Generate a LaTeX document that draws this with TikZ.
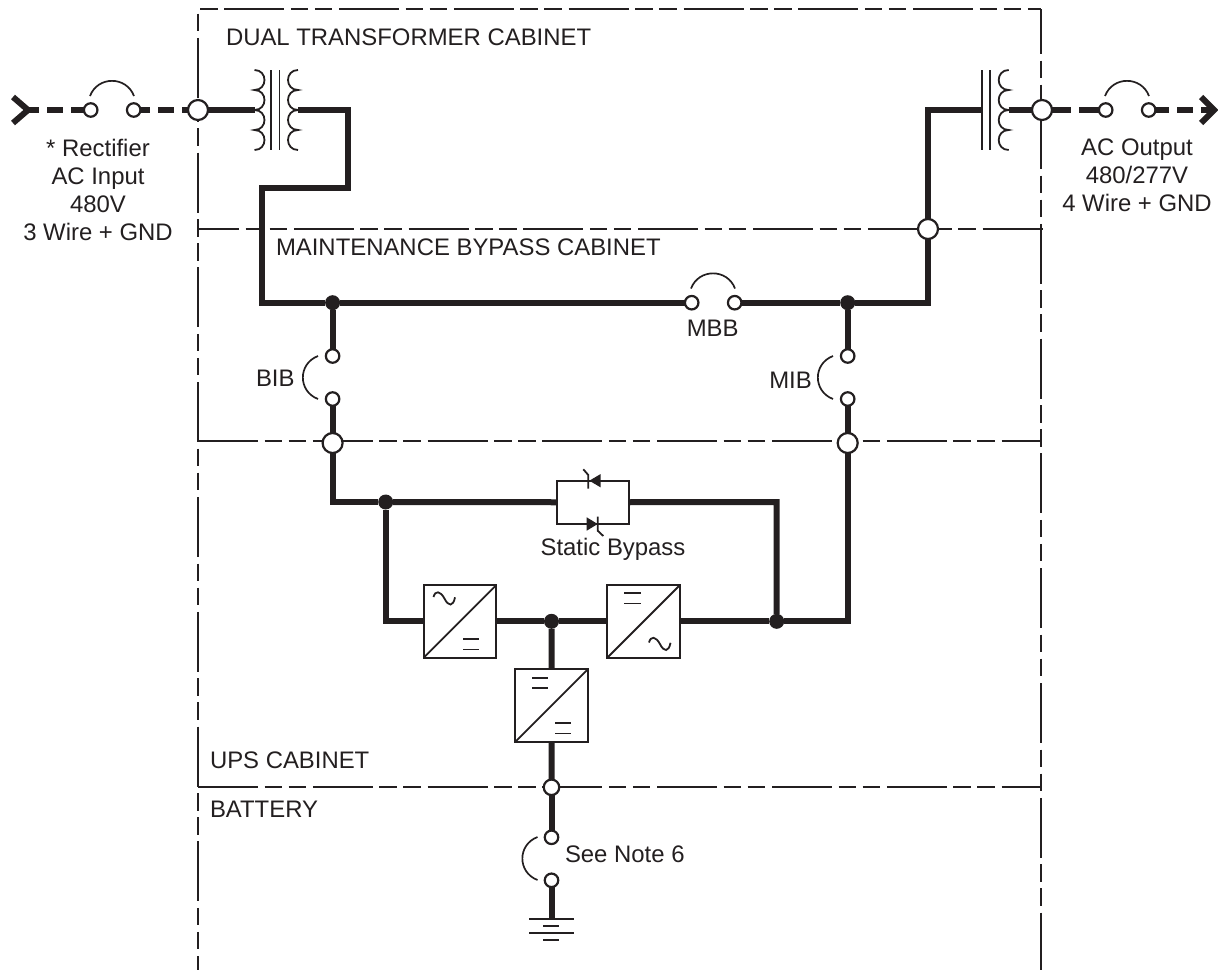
\documentclass[tikz,border=0pt]{standalone}
\usepackage{fontspec}
\setmainfont{Liberation Sans}
\definecolor{ink}{HTML}{231F20}
\newcommand{\coilpath}[2]{(#1,70) .. controls +(#2,0) and +(#2,0) .. ++(0,20) .. controls +(#2,0) and +(#2,0) .. ++(0,20) .. controls +(#2,0) and +(#2,0) .. ++(0,20) .. controls +(#2,0) and +(#2,0) .. ++(0,20)}
\newcommand{\eqsign}[3]{\draw[symb] (#1,#3) -- (#2,#3) (#1,#3+10.5) -- (#2,#3+10.5);}
\newcommand{\tildesign}[2]{\draw[symb] (#1,#2) .. controls +(1.7,-6.7) and +(-4.3,-8) .. ++(11,1.6) .. controls +(4,8) and +(-1.8,9.5) .. ++(10.5,-1.3);}
\tikzset{
  every path/.style={color=ink},
  every node/.style={text=ink},
  x=1pt,y=-1pt,
  framedash/.style={dash pattern=on 60pt off 6.5pt on 17.5pt off 6.5pt on 17.5pt off 6.8pt,dash phase=#1pt},
  frameln/.style={line width=2pt},
  wire/.style={line width=6pt,line join=miter,line cap=butt},
  thin wire/.style={line width=2.2pt},
  symb/.style={line width=1.8pt},
  lab/.style={font=\fontsize{23.9}{28}\selectfont,inner sep=0pt,outer sep=0pt,anchor=base west},
  labc/.style={lab,anchor=base},
  bigc/.style={circle,draw,fill=white,line width=2.2pt,minimum size=20pt,inner sep=0pt,outer sep=0pt},
  midc/.style={bigc,minimum size=15.5pt},
  smallc/.style={bigc,minimum size=13.5pt},
  dotc/.style={circle,fill=ink,minimum size=15pt,inner sep=0pt,outer sep=0pt},
  conv/.style={rectangle,draw,line width=1.8pt,minimum width=72.7pt,minimum height=72.7pt,inner sep=0pt,outer sep=0pt},
  sbox/.style={rectangle,draw,line width=1.8pt,minimum width=72.6pt,minimum height=43.3pt,inner sep=0pt,outer sep=0pt},
  brk/.style={line width=1.7pt},
}
\begin{document}
\begin{tikzpicture}
\useasboundingbox (0,0) rectangle (1218,970);
% frame
\coordinate (fTL) at (198,9); \coordinate (fTR) at (1041,9);
\coordinate (fBL) at (198,970); \coordinate (fBR) at (1041,970);
\coordinate (h1L) at (197,229); \coordinate (h1R) at (1044,229);
\coordinate (h2L) at (198,441); \coordinate (h2R) at (1041,441);
\coordinate (h3L) at (198,787); \coordinate (h3R) at (1041,787);
\draw[frameln,framedash=88.5] (fTL) -- (fTR);
\draw[frameln,framedash=86] (fTL) -- (fBL);
\draw[frameln,framedash=14.8] (fTR) -- (fBR);
\draw[frameln,framedash=18] (h1L) -- (h1R);
\draw[frameln,framedash=0] (h2L) -- (h2R);
\draw[frameln,framedash=0] (h3L) -- (h3R);
% nodes
\node[bigc] (pInL) at (198,110) {};
\node[bigc] (pOutR) at (1042,110) {};
\node[bigc] (pMbb) at (928,229) {};
\node[bigc] (pBib) at (332.6,443) {};
\node[bigc] (pMib) at (847.7,443) {};
\node[midc] (pBat) at (551.5,787.3) {};
\node[smallc] (s1a) at (90.7,110) {};
\node[smallc] (s1b) at (133.7,110) {};
\node[smallc] (s2a) at (1105.7,110) {};
\node[smallc] (s2b) at (1148.7,110) {};
\node[smallc] (mbbA) at (691.7,302.7) {};
\node[smallc] (mbbB) at (734.7,302.7) {};
\node[smallc] (bibA) at (332.6,356) {};
\node[smallc] (bibB) at (332.6,399) {};
\node[smallc] (mibA) at (847.7,356) {};
\node[smallc] (mibB) at (847.7,399) {};
\node[smallc] (batA) at (551.5,837.3) {};
\node[smallc] (batB) at (551.5,880.3) {};
\node[dotc] (dA) at (332.6,302.7) {};
\node[dotc] (dB) at (847.7,302.7) {};
\node[dotc] (dC) at (385.7,502) {};
\node[dotc] (dD) at (776.7,621.3) {};
\node[dotc] (dE) at (551.5,621.3) {};
\node[sbox] (sb) at (593,502.3) {};
\node[conv] (c1) at (460,621.3) {};
\node[conv] (c2) at (643.7,621.3) {};
\node[conv] (c3) at (551.6,705.6) {};
\draw[symb] (c1.south west) -- (c1.north east);
\draw[symb] (c2.south west) -- (c2.north east);
\draw[symb] (c3.south west) -- (c3.north east);
% converter symbols
\tildesign{433.5}{597}
\eqsign{463}{479}{639}
\eqsign{624}{641}{593}
\tildesign{649}{642.5}
\eqsign{532}{548}{677.7}
\eqsign{555}{571}{723}
% thyristors
\fill (589.3,480.7) -- (600.7,474) -- (600.7,487.4) -- cycle;
\draw[symb] (583.3,469.3) -- (588.3,475) -- (588.3,488.7);
\fill (597.7,524) -- (586.7,517.3) -- (586.7,530.7) -- cycle;
\draw[symb] (597.7,516.7) -- (597.7,530.7) -- (603.3,536);
% transformers
\draw[symb] \coilpath{254.5}{13.3};
\draw[symb] \coilpath{298}{-13.3};
\draw[symb] (271,70) -- (271,150) (279.5,70) -- (279.5,150);
\draw[symb] \coilpath{1008.7}{-13.3};
\draw[symb] (981.7,70) -- (981.7,150) (990,70) -- (990,150);
\coordinate (t1in) at (254.5,110); \coordinate (t1out) at (298,110);
\coordinate (t2in) at (981.7,110); \coordinate (t2out) at (1008.7,110);
% input / output forks
\coordinate (forkLa) at (13,97); \coordinate (forkLm) at (28,110); \coordinate (forkLb) at (13,123);
\coordinate (forkRa) at (1201,97); \coordinate (forkRm) at (1214,110); \coordinate (forkRb) at (1201,123);
\draw[wire] (forkLa) -- (forkLm) -- (forkLb);
\draw[wire] (forkRa) -- (forkRm) -- (forkRb);
\draw[wire,dash pattern=on 16pt off 8pt,dash phase=5pt] (forkLm) -- (s1a);
\draw[wire,dash pattern=on 16pt off 8pt,dash phase=6pt] (s1b) -- (pInL);
\draw[wire,dash pattern=on 19pt off 8pt on 30pt off 8pt] (pOutR) -- (s2a);
\draw[wire,dash pattern=on 16pt off 8pt,dash phase=2pt] (s2b) -- (forkRm);
% wires
\coordinate (w1) at (348,110); \coordinate (w2) at (348,188); \coordinate (w3) at (262,188); \coordinate (w4) at (262,302.7);
\coordinate (w5) at (928,302.7); \coordinate (w6) at (928,110);
\coordinate (w7) at (332.6,502); \coordinate (w8) at (776.7,502);
\coordinate (w9) at (385.7,621.3); \coordinate (w10) at (847.7,621.3);
\coordinate (gnd) at (551.5,919);
\draw[wire] (pInL) -- (t1in);
\draw[wire] (t1out) -- (w1) -- (w2) -- (w3) -- (w4) -- (dA);
\draw[wire] (dA) -- (mbbA);
\draw[wire] (mbbB) -- (dB);
\draw[wire] (dB) -- (w5) -- (pMbb);
\draw[wire] (pMbb) -- (w6) -- (t2in);
\draw[wire] (t2out) -- (pOutR);
\draw[wire] (dA) -- (bibA);
\draw[wire] (bibB) -- (pBib);
\draw[wire] (dB) -- (mibA);
\draw[wire] (mibB) -- (pMib);
\draw[wire] (pBib) -- (w7) -- (dC);
\draw[wire] (dC) -- (sb);
\draw[wire] (sb) -- (w8) -- (dD);
\draw[wire] (dC) -- (w9) -- (c1);
\draw[wire] (c1) -- (dE);
\draw[wire] (dE) -- (c2);
\draw[wire] (c2) -- (dD);
\draw[wire] (dD) -- (w10) -- (pMib);
\draw[wire] (dE) -- (c3);
\draw[wire] (c3) -- (pBat);
\draw[wire] (pBat) -- (batA);
\draw[wire] (batB) -- (gnd);
% ground
\coordinate (gA) at (529.3,919); \coordinate (gB) at (574,919);
\draw[thin wire] (gA) -- (gB);
\draw[symb] (543.3,925.7) -- (559.3,925.7) (529.3,933) -- (574,933) (543.3,940) -- (559.3,940);
% breaker arcs
\coordinate (a1) at (90,96); \coordinate (a2) at (134,96);
\coordinate (a3) at (1105,96); \coordinate (a4) at (1149,96);
\coordinate (a5) at (691,288.5); \coordinate (a6) at (735,288.5);
\coordinate (a7) at (318,356); \coordinate (a8) at (318,399);
\coordinate (a9) at (833,356); \coordinate (a10) at (833,399);
\coordinate (a11) at (537.5,837); \coordinate (a12) at (537.5,880);
\draw[brk] (a1) .. controls +(7.7,-20.2) and +(-7.7,-20.2) .. (a2);
\draw[brk] (a3) .. controls +(7.7,-20.2) and +(-7.7,-20.2) .. (a4);
\draw[brk] (a5) .. controls +(7.7,-20.2) and +(-7.7,-20.2) .. (a6);
\draw[brk] (a7) .. controls +(-20.2,7.7) and +(-20.2,-7.7) .. (a8);
\draw[brk] (a9) .. controls +(-20.2,7.7) and +(-20.2,-7.7) .. (a10);
\draw[brk] (a11) .. controls +(-20.2,7.7) and +(-20.2,-7.7) .. (a12);
% labels
\node[lab] (t1) at (226,45) {DUAL TRANSFORMER CABINET};
\node[lab] (t2) at (276,255) {MAINTENANCE BYPASS CABINET};
\node[lab] (t3) at (210,768) {UPS CABINET};
\node[lab] (t4) at (210,817) {BATTERY};
\node[lab] (t5) at (565,862) {See Note 6};
\node[labc] (t6) at (613,555) {Static Bypass};
\node[labc] (t7) at (712.7,336) {MBB};
\node[lab] (t8) at (769.3,388) {MIB};
\node[lab] (t9) at (256,386) {BIB};
\node[labc] (t10) at (98,156.5) {* Rectifier};
\node[labc] (t11) at (98,184) {AC Input};
\node[labc] (t12) at (98,212) {480V};
\node[labc] (t13) at (98,240) {3 Wire + GND};
\node[labc] (t14) at (1137,155.5) {AC Output};
\node[labc] (t15) at (1137,183) {480/277V};
\node[labc] (t16) at (1137,211) {4 Wire + GND};
\end{tikzpicture}
\end{document}
